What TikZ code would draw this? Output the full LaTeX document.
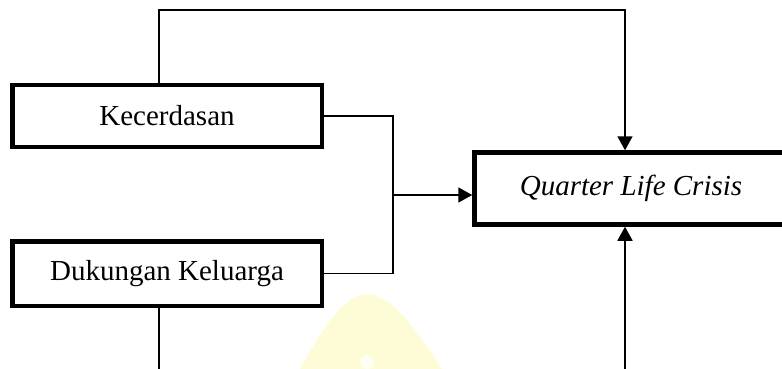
\documentclass[tikz,border=0pt]{standalone}
\usepackage{fontspec}
\setmainfont{Liberation Serif}
\usetikzlibrary{arrows.meta}
\definecolor{wmark}{RGB}{254,252,214}
\begin{document}
\begin{tikzpicture}[x=1pt,y=-1pt,
  box/.style={draw, line width=4.5pt, fill=white, inner sep=0pt,
              font=\fontsize{29}{34}\selectfont},
  link/.style={line width=1.8pt},
  arr/.style={link, -{Triangle[length=14pt,width=15pt]}}]
\useasboundingbox (0,0) rectangle (782,369);
\clip (0,0) rectangle (782,369);

% faint background emblem
\fill[wmark] (300,369) .. controls (326,322) and (346,294) .. (367,294)
  .. controls (388,294) and (412,322) .. (442,369) -- cycle;
\fill[white!70!wmark] (367,362) circle (7);

% boxes
\node[box, minimum width=309.5pt, minimum height=61.5pt] (K) at (167,116) {Kecerdasan};
\node[box, minimum width=309.5pt, minimum height=64.5pt] (D) at (167,273.5) {Dukungan Keluarga};
\node[box, minimum width=313pt, minimum height=72pt] (Q) at (631,188.5) {\textit{Quarter Life Crisis}};

% routing points
\coordinate (t1) at (159,10);
\coordinate (t2) at (625,10);
\coordinate (j) at (393,195);
\coordinate (b1) at (625,375);
\coordinate (b2) at (159,375);

% connectors
\draw[arr, line join=miter] (K.north -| t1) -- (t1) -- (t2) -- (Q.north -| t2);
\draw[link] (K.east) -| (j) |- (D.east);
\draw[arr] (j) -- (j -| Q.west);
\draw[arr] (b1) -- (Q.south -| b1);
\draw[link] (D.south -| b2) -- (b2);
\end{tikzpicture}
\end{document}
